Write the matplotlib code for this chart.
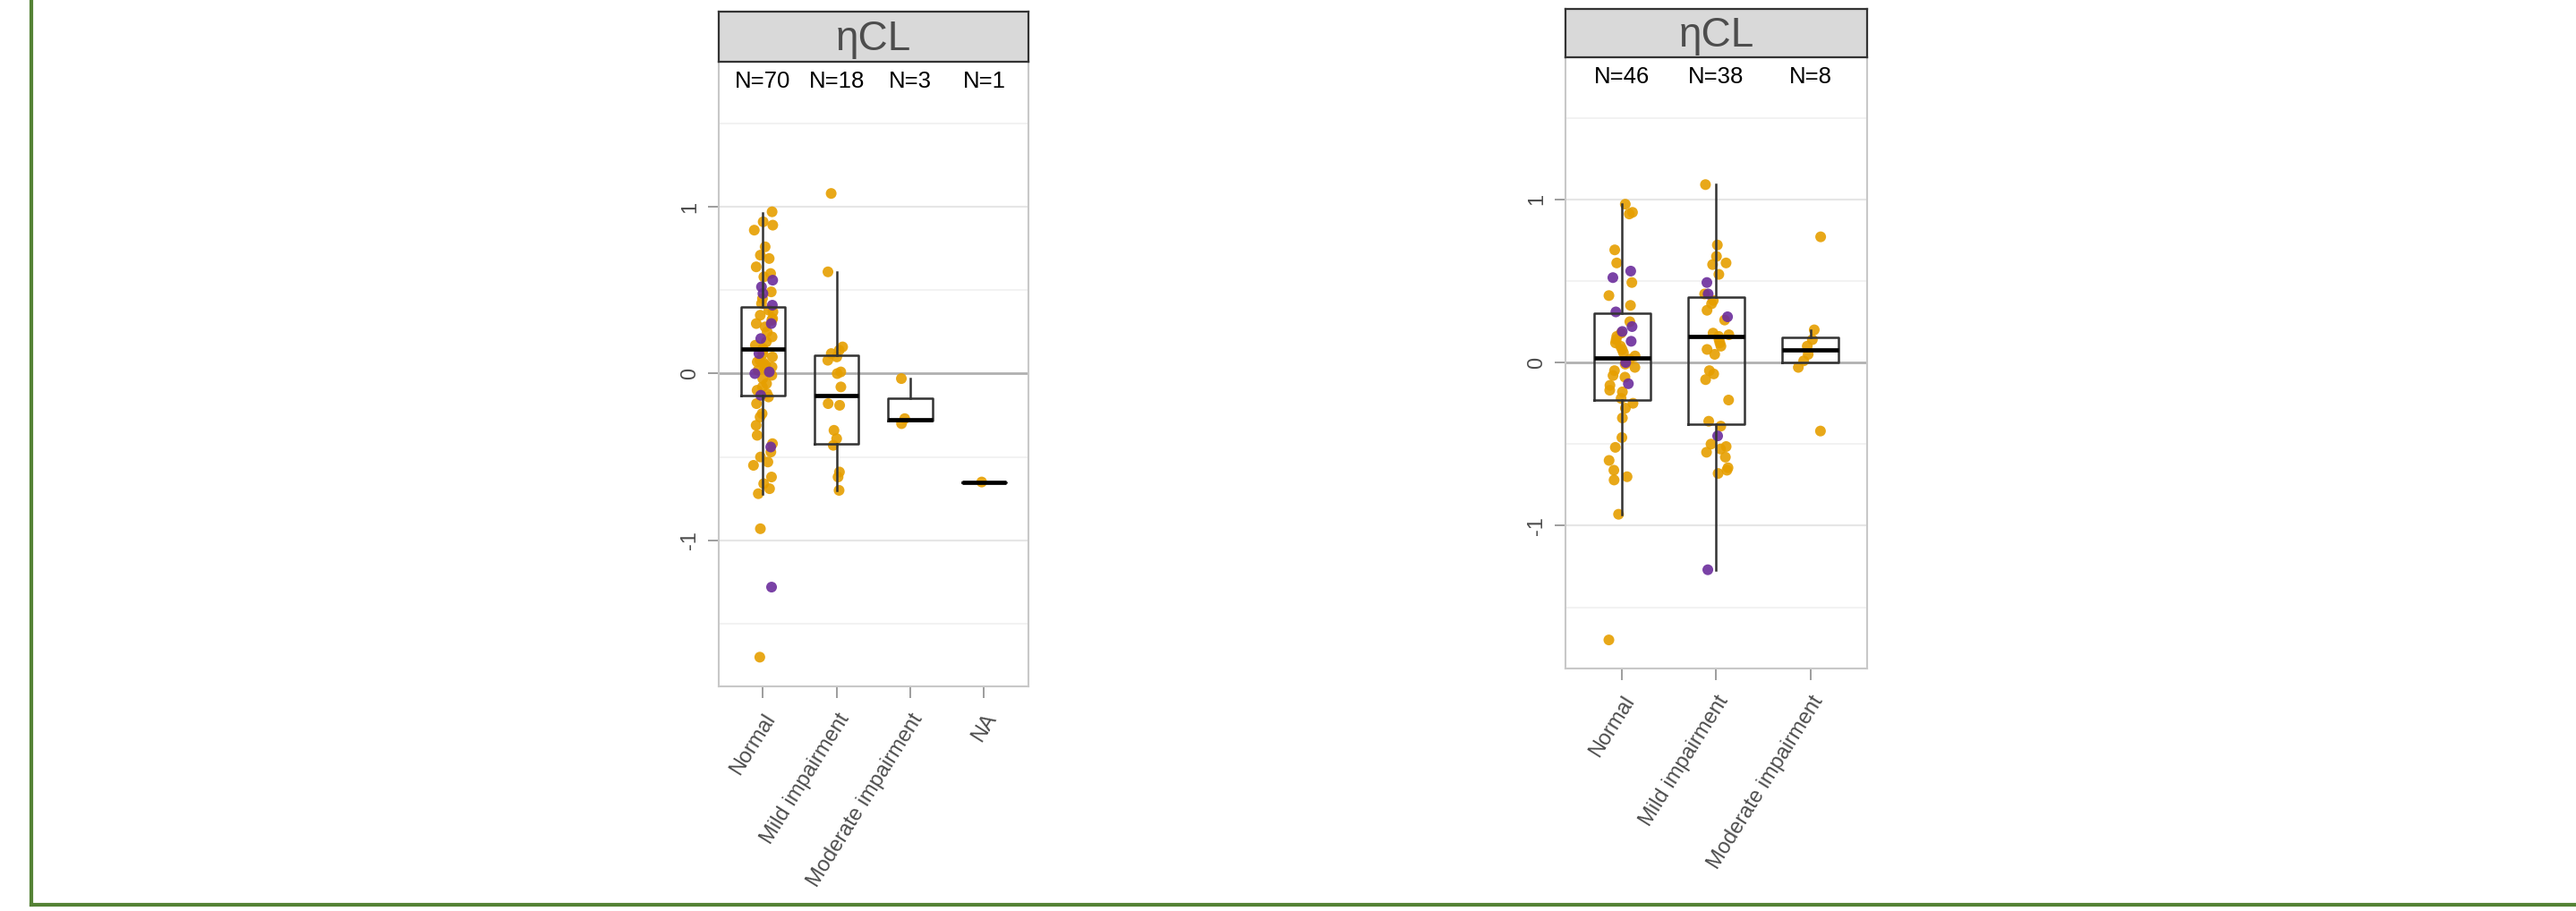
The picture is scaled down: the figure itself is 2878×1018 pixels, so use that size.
import matplotlib.pyplot as plt
import numpy as np
from matplotlib.lines import Line2D

plt.rcParams["font.family"] = ["Liberation Sans", "DejaVu Sans"]

# ---- left panel data (eta CL by renal function group) ----
left_groups = ["Normal", "Mild impairment", "Moderate impairment", "NA"]
left_orange = [
    [0.97, 0.91, 0.89, 0.86, 0.76, 0.71, 0.69, 0.64, 0.60, 0.58, 0.49, 0.45, 0.42,
     0.38, 0.37, 0.35, 0.33, 0.32, 0.30, 0.28, 0.25, 0.22, 0.19, 0.17, 0.15, 0.14,
     0.12, 0.10, 0.08, 0.07, 0.065, 0.05, 0.04, 0.03, 0.02, -0.01, -0.03, -0.06,
     -0.08, -0.10, -0.12, -0.14, -0.18, -0.24, -0.26, -0.31, -0.37, -0.42, -0.47,
     -0.50, -0.53, -0.55, -0.62, -0.66, -0.69, -0.72, -0.93, -1.70],
    [1.08, 0.61, 0.16, 0.14, 0.12, 0.10, 0.08, 0.01, 0.00, -0.08, -0.18, -0.19,
     -0.34, -0.39, -0.43, -0.59, -0.62, -0.70],
    [-0.03, -0.27, -0.30],
    [-0.65],
]
left_purple = [
    [0.56, 0.52, 0.48, 0.41, 0.30, 0.21, 0.12, 0.01, 0.00, -0.13, -0.44, -1.28],
    [],
    [],
    [],
]
left_q1 = [-0.13, -0.42, -0.28, -0.65]
left_med = [0.15, -0.13, -0.275, -0.65]
left_q3 = [0.40, 0.11, -0.145, -0.65]
left_lo = [-0.72, -0.70, -0.28, -0.65]
left_hi = [0.965, 0.61, -0.03, -0.65]

# ---- right panel data ----
right_groups = ["Normal", "Mild impairment", "Moderate impairment"]
right_orange = [
    [0.97, 0.92, 0.91, 0.69, 0.61, 0.49, 0.41, 0.35, 0.25, 0.18, 0.16, 0.14, 0.12,
     0.10, 0.08, 0.06, 0.04, 0.02, -0.01, -0.03, -0.05, -0.08, -0.09, -0.14, -0.17,
     -0.18, -0.22, -0.25, -0.28, -0.34, -0.46, -0.52, -0.60, -0.66, -0.70, -0.72,
     -0.93, -1.70],
    [1.09, 0.72, 0.65, 0.61, 0.60, 0.54, 0.42, 0.38, 0.36, 0.32, 0.26, 0.18, 0.17,
     0.16, 0.14, 0.12, 0.10, 0.08, 0.05, -0.05, -0.07, -0.105, -0.23, -0.36, -0.39,
     -0.50, -0.515, -0.53, -0.55, -0.58, -0.645, -0.66, -0.68],
    [0.77, 0.20, 0.14, 0.10, 0.05, 0.01, -0.03, -0.42],
]
right_purple = [
    [0.56, 0.52, 0.31, 0.22, 0.19, 0.13, 0.00, -0.13],
    [0.49, 0.42, 0.28, -0.45, -1.27],
    [],
]
right_q1 = [-0.23, -0.38, 0.0]
right_med = [0.03, 0.16, 0.075]
right_q3 = [0.30, 0.40, 0.155]
right_lo = [-0.93, -1.27, 0.0]
right_hi = [0.97, 1.09, 0.20]

ORANGE = "#E69F00"
PURPLE = "#6C2D9C"
TXT = "#4D4D4D"

fig = plt.figure(figsize=(28.78, 10.18), dpi=100)


def draw_panel(rect, strip_rect, groups, orange, purple, q1, med, q3, lo, hi, seed):
    ax = fig.add_axes(rect)
    rng = np.random.default_rng(seed)
    pos = np.arange(1, len(groups) + 1)

    # grid
    for y in [-1.5, -0.5, 0.5, 1.5]:
        ax.axhline(y, color="#F0F0F0", lw=1.2, zorder=0)
    for y in [-1, 1]:
        ax.axhline(y, color="#E6E6E6", lw=1.5, zorder=0)
    ax.axhline(0, color="#B0B0B0", lw=2.0, zorder=1)

    for i in range(len(groups)):
        for vals, col in ((orange[i], ORANGE), (purple[i], PURPLE)):
            if len(vals) == 0:
                continue
            x = pos[i] + rng.uniform(-0.14, 0.14, len(vals))
            ax.scatter(x, vals, s=75, color=col, alpha=0.9, edgecolors="none", zorder=2)

    stats = [dict(med=med[i], q1=q1[i], q3=q3[i], whislo=lo[i], whishi=hi[i])
             for i in range(len(groups))]
    ax.bxp(stats, positions=pos, widths=0.6, showfliers=False, showcaps=False,
           boxprops=dict(color="#333333", lw=1.8, zorder=3),
           whiskerprops=dict(color="#333333", lw=1.8, zorder=3),
           medianprops=dict(color="black", lw=3.4, zorder=4))

    for i in range(len(groups)):
        n = len(orange[i]) + len(purple[i])
        ax.text(pos[i], 1.75, f"N={n}", ha="center", va="center", fontsize=18.5, color="black")

    ax.set_xlim(0.4, len(groups) + 0.6)
    ax.set_ylim(-1.875, 1.87)
    ax.set_yticks([-1, 0, 1])
    ax.set_yticklabels(["-1", "0", "1"], rotation=90, va="center")
    ax.set_xticks(pos)
    ax.set_xticklabels(groups, rotation=58, ha="right", va="top", rotation_mode="anchor")
    ax.tick_params(axis="both", colors="#8C8C8C", labelcolor=TXT, labelsize=17,
                   length=9, width=1.2, pad=6)
    ax.tick_params(axis="x", pad=10)
    for s in ax.spines.values():
        s.set_color("#C8C8C8")
        s.set_linewidth(1.5)

    sax = fig.add_axes(strip_rect)
    sax.set_facecolor("#D9D9D9")
    sax.set_xticks([])
    sax.set_yticks([])
    for s in sax.spines.values():
        s.set_color("#333333")
        s.set_linewidth(1.6)
    sax.text(0.5, 0.45, "\u03b7CL", ha="center", va="center", fontsize=33, color=TXT,
             transform=sax.transAxes)
    return ax


draw_panel([0.2790, 0.2466, 0.1202, 0.6857], [0.2790, 0.9322, 0.1202, 0.0550],
           left_groups, left_orange, left_purple, left_q1, left_med, left_q3,
           left_lo, left_hi, seed=4)
draw_panel([0.6077, 0.2662, 0.1171, 0.6709], [0.6077, 0.9371, 0.1171, 0.0530],
           right_groups, right_orange, right_purple, right_q1, right_med, right_q3,
           right_lo, right_hi, seed=7)

# green frame on left and bottom
GREEN = "#548235"
fig.add_artist(Line2D([35 / 2878, 35 / 2878], [1 - 1011 / 1018, 1], color=GREEN, lw=3, transform=fig.transFigure))
fig.add_artist(Line2D([35 / 2878, 1], [1 - 1011 / 1018, 1 - 1011 / 1018], color=GREEN, lw=3, transform=fig.transFigure))

fig.savefig("out.png", dpi=100)
